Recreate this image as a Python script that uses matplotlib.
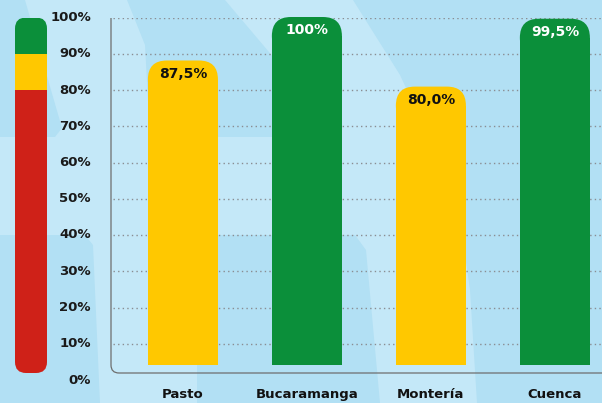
import matplotlib
matplotlib.use("Agg")
import matplotlib.pyplot as plt
from matplotlib.patches import FancyBboxPatch, Rectangle, Polygon, PathPatch
from matplotlib.path import Path

# DATA
CITIES = ["Pasto", "Bucaramanga", "Montería", "Cuenca"]
VALUES = [87.5, 100.0, 80.0, 99.5]
SCALE_TICKS = [0, 10, 20, 30, 40, 50, 60, 70, 80, 90, 100]
BANDS = [(0, 80), (80, 90), (90, 100)]  # red / yellow / green ranges

# colours
RED = "#cf2118"
YELLOW = "#ffc800"
GREEN = "#0b8f3a"
BG_LIGHT = "#c4e8f8"
BG_DARK = "#b2e0f4"
BAND_COLORS = [RED, YELLOW, GREEN]

W, H = 602, 403
plt.rcParams["font.family"] = ["DejaVu Sans"]
plt.rcParams["font.weight"] = "bold"


def band_color(v):
    for (lo, hi), c in zip(BANDS, BAND_COLORS):
        if lo <= v < hi or (v == hi == 100):
            return c
    return RED


def fmt(v):
    if v == 100:
        return "100%"
    return f"{v:.1f}".replace(".", ",") + "%"


def data_per_px(ax):
    inv = ax.transData.inverted()
    (x0, y0), (x1, y1) = inv.transform([(0, 0), (1, 1)])
    return abs(x1 - x0), abs(y1 - y0)


def fig_box(left, top, right, bottom):
    # pixel box (y from top) -> figure fraction rect
    return [left / W, (H - bottom) / H, (right - left) / W, (bottom - top) / H]


fig = plt.figure(figsize=(W / 100, H / 100), dpi=100)

# background with soft shapes
bg = fig.add_axes([0, 0, 1, 1], zorder=0)
bg.set_xlim(0, W)
bg.set_ylim(H, 0)
bg.axis("off")
bg.add_patch(Rectangle((0, 0), W, H, color=BG_LIGHT, lw=0))
shapes = [
    [(0, 0), (25, 0), (62, 128), (55, 137), (0, 137)],
    [(127, 0), (225, 0), (280, 65), (280, 137), (150, 137), (145, 45)],
    [(353, 0), (602, 0), (602, 403), (477, 403), (470, 290), (460, 220), (430, 140), (400, 75)],
    [(0, 235), (85, 235), (93, 245), (100, 403), (0, 403)],
    [(197, 235), (355, 235), (366, 250), (380, 403), (197, 403)],
]
for pts in shapes:
    bg.add_patch(Polygon(pts, closed=True, color=BG_DARK, lw=0))

# axis frame with rounded lower-left corner
frame = Path(
    [(111, 18), (111, 365), (111, 373), (119, 373), (602, 373)],
    [Path.MOVETO, Path.LINETO, Path.CURVE3, Path.CURVE3, Path.LINETO],
)
bg.add_patch(PathPatch(frame, fill=False, ec="#6e6e6e", lw=0.9))

# percentage scale: labels, gridlines, colour bar
sc = fig.add_axes(fig_box(0, 17.5, W, 380), zorder=1)
sc.set_xlim(0, W)
sc.set_ylim(0, 100)
sc.axis("off")
sc.patch.set_visible(False)

for t in SCALE_TICKS:
    sc.text(91, t, f"{t}%", ha="right", va="center", fontsize=9.5,
            fontweight="bold", color="#1a1a1a")
sc.hlines(SCALE_TICKS[1:], 113, W, colors="#8a8d92",
          linestyles=(0, (1, 2.3)), lw=1.0)

dx, dy = data_per_px(sc)
cb_bottom = 7 * dy
clip = FancyBboxPatch((15, cb_bottom), 32, 100 - cb_bottom,
                      boxstyle="round,pad=0,rounding_size=11",
                      mutation_aspect=dy / dx, fc="none", ec="none")
sc.add_patch(clip)
for (lo, hi), c in zip(BANDS, BAND_COLORS):
    r = Rectangle((15, lo), 32, hi - lo, color=c, lw=0)
    sc.add_patch(r)
    r.set_clip_path(clip)

# bars
ax = fig.add_axes(fig_box(111, 17, W, 373), zorder=2)
ax.patch.set_visible(False)
ax.axis("off")
ax.set_xlim(-0.58, 3.38)
ax.set_ylim(-8 / 3.48, 100)

bw = 0.565
dx, dy = data_per_px(ax)
r_px = 19
for i, (city, v) in enumerate(zip(CITIES, VALUES)):
    c = band_color(v)
    ax.add_patch(Rectangle((i - bw / 2, 0), bw, v - r_px * dy, color=c, lw=0))
    ax.add_patch(FancyBboxPatch((i - bw / 2, v - 2 * r_px * dy), bw, 2 * r_px * dy,
                                boxstyle=f"round,pad=0,rounding_size={r_px * dx}",
                                mutation_aspect=dy / dx, color=c, lw=0))
    ax.annotate(fmt(v), (i, v), xytext=(0, -13), textcoords="offset pixels",
                ha="center", va="center", fontsize=10, fontweight="bold",
                color="white" if c == GREEN else "#111111")
    ax.annotate(city, (i, 5), xycoords=("data", "figure pixels"),
                ha="center", va="baseline", fontsize=9.5, fontweight="bold",
                color="#111111", annotation_clip=False)

fig.savefig("out.png", dpi=100)
